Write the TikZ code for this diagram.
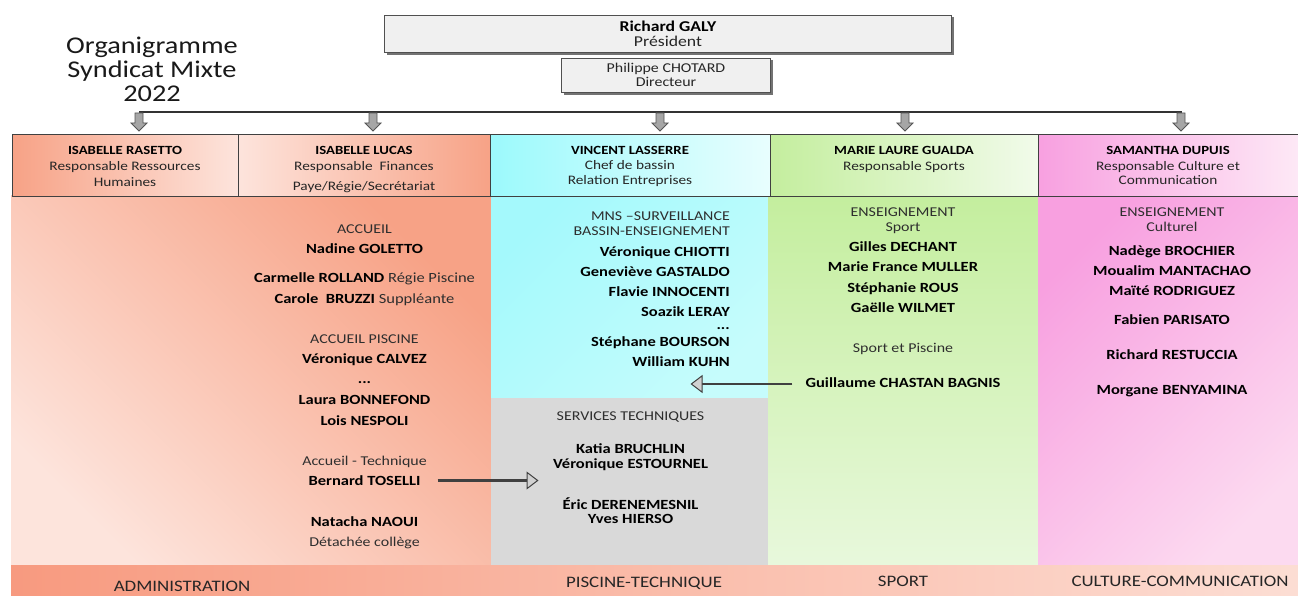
\documentclass[tikz,border=0pt]{standalone}
\usepackage{fontspec}
\setmainfont{Carlito}[FakeStretch=1.18]
\usetikzlibrary{arrows.meta,calc}
\definecolor{txt}{HTML}{262626}
\definecolor{lbl}{HTML}{2E2E2E}
\definecolor{boxgray}{HTML}{F0F0F0}
\definecolor{boxline}{HTML}{505050}
\definecolor{salS}{HTML}{F7A286}
\definecolor{salL}{HTML}{FDE4DC}
\definecolor{cyS}{HTML}{A4F9FC}
\definecolor{cyL}{HTML}{C6FCFC}
\definecolor{grS}{HTML}{C4EE9E}
\definecolor{grL}{HTML}{E8F8DC}
\definecolor{pkS}{HTML}{F8A0E0}
\definecolor{pkL}{HTML}{FCDAF0}
\definecolor{techgray}{HTML}{D9D9D9}
\definecolor{arrgray}{HTML}{A6A6A6}
\definecolor{arrdark}{HTML}{555555}
\definecolor{conndark}{HTML}{404040}
\begin{document}
\begin{tikzpicture}[x=1pt,y=-1pt,
  ttl/.style={font=\fontsize{24}{26}\selectfont, text=black!90, anchor=base, yshift=-8pt, inner sep=0pt},
  topbox/.style={draw=boxline, line width=0.9pt, fill=boxgray},
  shadowbox/.style={fill=black!55},
  presname/.style={font=\fontsize{15}{17}\selectfont\bfseries, anchor=base, yshift=-5pt, inner sep=0pt},
  presrole/.style={font=\fontsize{15}{17}\selectfont, text=txt, anchor=base, yshift=-5pt, inner sep=0pt},
  dirtext/.style={font=\fontsize{13.5}{15}\selectfont, text=txt, anchor=base, yshift=-4.5pt, inner sep=0pt},
  hbox/.style={draw=black!75, line width=0.9pt},
  hname/.style={font=\fontsize{12.5}{14}\selectfont\bfseries, anchor=base, yshift=-4pt, inner sep=0pt},
  hrole/.style={font=\fontsize{13}{15}\selectfont, text=txt, anchor=base, yshift=-4pt, inner sep=0pt},
  nm/.style={font=\fontsize{14}{16}\selectfont\bfseries, anchor=base, yshift=-4.5pt, inner sep=0pt},
  nmr/.style={nm, anchor=base east},
  lb/.style={font=\fontsize{13.5}{16}\selectfont, text=lbl, anchor=base, yshift=-4.5pt, inner sep=0pt},
  lbr/.style={lb, anchor=base east},
  bot/.style={font=\fontsize{16}{18}\selectfont, text=black!85, anchor=base, yshift=-5pt, inner sep=0pt},
  conn/.style={draw=conndark, line width=2.4pt, -{Triangle[length=12pt,width=18pt,fill=black!18,line width=1pt]}},
  downarrow/.pic={\draw[fill=arrgray, draw=arrdark, line width=0.8pt] (-4,0) -- (4,0) -- (4,10) -- (8,10) -- (0,18) -- (-8,10) -- (-4,10) -- cycle;}
]
\useasboundingbox (0,0) rectangle (1298,596);
\fill[white] (0,0) rectangle (1298,596);

% title
\node[ttl] (t1) at (152,46) {Organigramme};
\node[ttl] (t2) at (152,69.5) {Syndicat Mixte};
\node[ttl] (t3) at (152,94) {2022};

% president & director
\fill[shadowbox] (387,17) rectangle (954,55);
\draw[topbox] (384.5,15) rectangle (951.5,52.5);
\node[presname] (pres1) at (668,26.5) {Richard GALY};
\node[presrole] (pres2) at (668,41.5) {Président};
\fill[shadowbox] (563.5,60.5) rectangle (772.5,95);
\draw[topbox] (561.5,58.5) rectangle (770,92.5);
\node[dirtext] (dir1) at (666,68) {Philippe CHOTARD};
\node[dirtext] (dir2) at (666,82) {Directeur};

% distribution line and arrows
\coordinate (hl) at (139,112);
\coordinate (hr) at (1182,112);
\draw[black!80, line width=1.1pt] (hl) -- (hr);
\pic at (139,113) {downarrow};
\pic at (373,113) {downarrow};
\pic at (660,113) {downarrow};
\pic at (905,113) {downarrow};
\pic at (1181,113) {downarrow};

% body columns
\shade[top color=salS, bottom color=salL, shading angle=-45] (11,196) rectangle (491,565);
\shade[top color=cyS, bottom color=cyL, shading angle=45] (491,196) rectangle (768.5,397.5);
\fill[techgray] (491,397.5) rectangle (768.5,565);
\shade[top color=grS, bottom color=grL] (768.5,196) rectangle (1038,565);
\shade[top color=pkS, bottom color=pkL, shading angle=45] (1038,196) rectangle (1298,565);
\shade[left color=salS!95!red, right color=salL!90!salS] (11,565) rectangle (1298,596);

% header boxes
\shade[hbox, left color=salS, right color=salL] (12,134.5) rectangle (238,196);
\shade[hbox, left color=salL, right color=salS] (238,134.5) rectangle (490.5,196);
\shade[hbox, left color=cyS!95!cyan, right color=cyL!40!white] (490.5,134.5) rectangle (770,196);
\shade[hbox, left color=grS, right color=grL!60!white] (770,134.5) rectangle (1038,196);
\shade[hbox, left color=pkS, right color=pkL!60!white] (1038,134.5) rectangle (1300,196);

\node[hname] (h1a) at (125,151) {ISABELLE RASETTO};
\node[hrole] (h1b) at (125,167) {Responsable Ressources};
\node[hrole] (h1c) at (125,183) {Humaines};
\node[hname] (h2a) at (364,151) {ISABELLE LUCAS};
\node[hrole] (h2b) at (364,167) {Responsable\ \ Finances};
\node[hrole] (h2c) at (364,187) {Paye/Régie/Secrétariat};
\node[hname] (h3a) at (630,151) {VINCENT LASSERRE};
\node[hrole] (h3b) at (630,166) {Chef de bassin};
\node[hrole] (h3c) at (630,181) {Relation Entreprises};
\node[hname] (h4a) at (904,151) {MARIE LAURE GUALDA};
\node[hrole] (h4b) at (904,167) {Responsable Sports};
\node[hname] (h5a) at (1168,151) {SAMANTHA DUPUIS};
\node[hrole] (h5b) at (1168,167) {Responsable Culture et};
\node[hrole] (h5c) at (1168,181) {Communication};

% administration
\node[lb] (a1) at (364.5,229) {ACCUEIL};
\node[nm] (a2) at (364.5,249) {Nadine GOLETTO};
\node[nm] (a3) at (364.5,278.3) {Carmelle ROLLAND \mdseries\color{lbl}Régie Piscine};
\node[nm] (a4) at (364.5,298.7) {Carole\ \ BRUZZI \mdseries\color{lbl}Suppléante};
\node[lb] (a5) at (364.5,339) {ACCUEIL PISCINE};
\node[nm] (a6) at (364.5,359.3) {Véronique CALVEZ};
\node[nm] (a7) at (364.5,379) {...};
\node[nm] (a8) at (364.5,400) {Laura BONNEFOND};
\node[nm] (a9) at (364.5,420.5) {Lois NESPOLI};
\node[lb] (a10) at (364.5,460.7) {Accueil - Technique};
\node[nm] (toselli) at (364.5,480.7) {Bernard TOSELLI};
\node[nm] (a12) at (364.5,521.7) {Natacha NAOUI};
\node[lb] (a13) at (364.5,541.7) {Détachée collège};

% piscine
\node[lbr] (p1) at (730,216) {MNS –SURVEILLANCE};
\node[lbr] (p2) at (730,231) {BASSIN-ENSEIGNEMENT};
\node[nmr] (p3) at (730,251.7) {Véronique CHIOTTI};
\node[nmr] (p4) at (730,271.7) {Geneviève GASTALDO};
\node[nmr] (p5) at (730,291.7) {Flavie INNOCENTI};
\node[nmr] (p6) at (730,312.3) {Soazik LERAY};
\node[nmr] (p7) at (730,325) {...};
\node[nmr] (p8) at (730,341.7) {Stéphane BOURSON};
\node[nmr] (p9) at (730,361.7) {William KUHN};

% technique
\node[lb] (s1) at (630.5,415.7) {SERVICES TECHNIQUES};
\node[nm] (s2) at (630.5,449.3) {Katia BRUCHLIN};
\node[nm] (s3) at (630.5,464.3) {Véronique ESTOURNEL};
\node[nm] (s4) at (630.5,505) {Éric DERENEMESNIL};
\node[nm] (s5) at (630.5,519.3) {Yves HIERSO};

% sport
\node[lb] (g1) at (903,212.3) {ENSEIGNEMENT};
\node[lb] (g2) at (903,226.7) {Sport};
\node[nm] (g3) at (903,247.3) {Gilles DECHANT};
\node[nm] (g4) at (903,267.3) {Marie France MULLER};
\node[nm] (g5) at (903,287.7) {Stéphanie ROUS};
\node[nm] (g6) at (903,307.7) {Gaëlle WILMET};
\node[lb] (g7) at (903,348) {Sport et Piscine};
\node[nm] (guill) at (903,382.7) {Guillaume CHASTAN BAGNIS};

% culture
\node[lb] (c1) at (1172,212.3) {ENSEIGNEMENT};
\node[lb] (c2) at (1172,227.3) {Culturel};
\node[nm] (c3) at (1172,251) {Nadège BROCHIER};
\node[nm] (c4) at (1172,271) {Moualim MANTACHAO};
\node[nm] (c5) at (1172,291) {Maïté RODRIGUEZ};
\node[nm] (c6) at (1172,320) {Fabien PARISATO};
\node[nm] (c7) at (1172,355) {Richard RESTUCCIA};
\node[nm] (c8) at (1172,390) {Morgane BENYAMINA};

% connectors
\coordinate (ttip) at (538.5,480.5);
\draw[conn] ($(toselli.east |- ttip)+(17,0)$) -- (ttip);
\coordinate (gtip) at (690.5,384);
\draw[conn] ($(guill.west |- gtip)+(-13,0)$) -- (gtip);

% bottom labels
\node[bot] (b1) at (182,586.7) {ADMINISTRATION};
\node[bot] (b2) at (644,582.5) {PISCINE-TECHNIQUE};
\node[bot] (b3) at (903,581.7) {SPORT};
\node[bot] (b4) at (1180,581.7) {CULTURE-COMMUNICATION};
\end{tikzpicture}
\end{document}
